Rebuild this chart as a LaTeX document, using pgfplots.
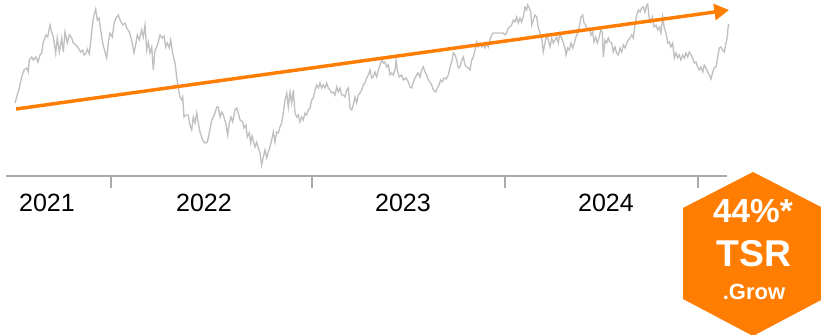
\documentclass[border=0pt]{standalone}
\usepackage{pgfplots}
\pgfplotsset{compat=1.18}
\usepackage{pgfplotstable}
\usepackage{fontspec}
\setmainfont{Liberation Sans}
\usetikzlibrary{arrows.meta}

\definecolor{tsrorange}{RGB}{255,125,0}
\definecolor{pricegray}{RGB}{192,192,192}
\definecolor{axisgray}{RGB}{170,170,170}

% share price index, mid-2021 to early 2025
\pgfplotstableread{
x v
15 77
16.7 83
19.3 92
21.7 103
24 110
26.7 112
28.3 108
29.3 120
31.7 123
33.3 120
36 123
38 118
40 125
41.7 127
43.3 138
46 145
47.7 143
50 155
51.7 148
53.3 143
55.7 127
57.3 142
59.3 128
61.7 142
63.3 128
65 148
67.3 137
69.3 145
71.7 142
73.3 137
76 135
78.3 132
80.7 128
82.7 130
84 125
86 127
87.3 131
89.3 126
91.7 148
93.3 162
95.7 171
97.3 160
99 162
100.7 150
102.7 137
105 128
106.7 122
108.3 137
110 147
112.3 143
114.3 158
116.7 163
118.3 165
120 160
122.7 155
125 157
126.7 152
129.3 148
131.7 140
134 127
136 137
137.3 145
139.3 140
141.7 150
143.3 143
145 155
146.7 130
148.3 138
150 127
151.7 133
153.3 110
155 130
156.7 133
158.3 138
160 145
162.3 142
164 144
165.7 133
167.3 137
169.3 132
170.7 140
172.7 127
175 117
176.7 103
178.3 92
180 83
181.7 80
182.7 83
184 63
186 65
188.3 65
190 55
191.7 50
193.3 63
195 57
196.7 67
198.3 57
200 48
202.7 40
205 37
207.3 38
209.3 47
211.7 60
213.3 63
215 67
216.7 73
218.3 73
220 63
221.7 68
223.3 65
225.7 57
227.7 45
229.3 57
231 63
232.7 58
235 70
236.7 72
238.3 67
240 60
242.7 58
244 52
246 55
247.3 43
249.3 47
250.7 37
252 44
253.3 39
255 33
256.7 38
258.3 32
260 27
261.7 15
263.3 23
265 30
266.7 22
268.3 28
270 33
271.7 40
273.3 48
275 38
276.7 48
278.3 47
280 53
281.7 57
283.3 67
285 80
286.7 87
288.3 73
290 88
291.7 77
293.3 90
295 67
296.7 63
298.3 65
300 58
301.7 63
303.3 60
305 67
306.7 65
308.3 70
310 72
311.7 80
313.3 82
315 90
316.7 95
318.3 92
320 97
321.7 92
323.3 95
325 92
326.7 97
328.3 92
330 90
331.7 87
333.3 88
335 85
336.7 93
338.3 88
340 92
341.7 85
343.3 85
345 83
346.7 90
348.3 92
350 72
351.7 70
353.3 75
355 83
356.7 77
358.3 85
360 87
361.7 90
363.3 95
365 97
366.7 102
368.3 105
370 110
371.7 102
373.3 103
375 108
376.7 103
378.3 110
380 115
381.7 120
383.3 117
385 118
386.7 113
388.3 115
390 105
391.7 107
393.3 105
395 110
396 120
397.3 110
399.3 103
401.7 105
403.3 100
406 102
408.3 98
410 93
411.7 92
413.3 98
415 102
416.7 105
418.3 107
420 103
421.7 110
423.3 113
425 108
426.7 105
428.3 100
430 98
431.7 95
433.3 90
435.7 88
437.3 92
439 95
440.7 100
442.3 98
444 102
446 101
448.3 105
450 113
451.7 118
453.3 127
455 125
456.7 120
458.3 112
460 113
461.7 120
463.3 123
465 115
466.7 113
468.3 112
470 110
471.7 120
473.3 123
475 130
476.7 138
478.3 133
480 137
481.7 133
483.3 135
485 132
486.7 137
488.3 133
490 140
491.7 145
493.3 147
496.7 147
500 147
503.3 147
505 145
506.7 147
508.3 152
510 153
511.7 155
513.3 160
515 158
516.7 163
518.3 157
520 162
521.7 158
523.3 163
525 173
526.7 170
527.7 175
529.3 172
530.7 168
531.7 155
533.3 160
535 165
536.7 163
538.3 152
540 147
541.7 142
543.3 128
545 137
546.7 145
548.3 140
550 133
551.7 142
553.3 137
555 140
556.7 143
558.3 137
560 147
561.7 142
563.3 137
565 132
566 125
567.7 132
569.3 130
571 137
572.7 132
574.3 137
576 143
577.7 147
579.3 153
581 163
582.7 165
584 157
585.7 155
587.3 150
589.3 152
591 145
592.7 148
594 138
595.7 143
597.3 137
599 142
600.7 150
602.3 148
603.3 123
605 140
606.7 137
608.3 142
610 138
611.7 137
613.3 128
615 133
616.7 127
618.3 125
620 132
621.7 128
623.3 135
625 132
626.7 137
628.3 140
630 142
631.7 145
633.3 142
635 155
636.7 165
638.3 170
640 168
641.7 172
643.3 173
645 168
646.7 175
647.7 176
649 163
650.7 158
652.3 163
654 153
656 155
657.7 150
659.3 153
661 147
662.7 163
664.3 152
666 147
667.7 137
669.3 138
671 133
672.7 137
674.3 122
676 127
677.7 122
679.3 125
681 120
682.7 125
684.3 122
686 127
687.7 123
689.3 128
691 125
692.7 122
694.3 117
696 118
697.7 113
699.3 110
701 113
702.7 108
704.3 115
706 112
707.7 108
709.3 105
711 101
712.7 108
714.3 112
716 113
717.7 123
719.3 132
721 133
722.7 130
724.3 128
726 137
727.3 143
728.3 155
729.3 156
}\price

\begin{document}
\begin{tikzpicture}[x=0.75pt,y=0.75pt]
\clip (0,0) rectangle (821,335);
\begin{axis}[
  at={(4.5pt,119.25pt)}, anchor=south west,
  scale only axis, width=540.75pt, height=132pt,
  xmin=6, xmax=727, ymin=4, ymax=180,
  clip=false,
  axis x line*=bottom, axis y line=none,
  x axis line style={draw=axisgray, line width=1.5pt},
  xtick={111,312,505,698}, xticklabels={},
  tick align=outside, major tick length=9pt,
  xtick style={draw=axisgray, line width=1.3pt},
  extra x ticks={47,204,403,606},
  extra x tick labels={2021,2022,2023,2024},
  extra x tick style={major tick length=0pt},
  xticklabel style={font=\fontsize{18.75}{20}\selectfont, anchor=base, yshift=-27pt},
]
\addplot[pricegray, line width=1pt] table[x=x, y=v] {\price};
\addplot[tsrorange, line width=2.6pt, -{Triangle[length=11pt, width=12pt]}]
  coordinates {(16,71) (729,170)};
\end{axis}

% TSR badge
\fill[tsrorange] (753,163) -- (683,127) -- (683,36) -- (753,-1) -- (823,36) -- (823,127) -- cycle;
\node[white, anchor=base, inner sep=0pt, font=\bfseries\fontsize{25}{25}\selectfont] at (753,112) {44\%*};
\node[white, anchor=base, inner sep=0pt, font=\bfseries\fontsize{28}{28}\selectfont] at (754,68.3) {TSR};
\node[white, anchor=base, inner sep=0pt, font=\bfseries\fontsize{16.5}{16.5}\selectfont] at (754,35.7) {.Grow};
\end{tikzpicture}
\end{document}
